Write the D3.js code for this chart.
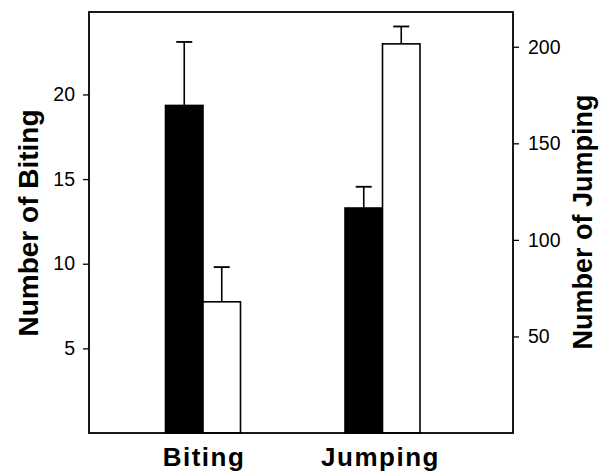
<!DOCTYPE html>
<html>
<head>
<meta charset="utf-8">
<script src="https://cdn.jsdelivr.net/npm/d3@7"></script>
<style>
  body { margin: 0; background: #fff; }
  svg { display: block; font-family: "Liberation Sans", Arial, sans-serif; }
</style>
</head>
<body>
<script>
// data
var categories = ["Biting", "Jumping"]
var series = ["black", "white"]
var bitingMeans = [19.35, 7.75]   // left axis
var bitingErrs = [3.75, 2.05]
var jumpingMeans = [116.5, 201.5] // right axis
var jumpingErrs = [11, 9]
var leftTicks = [5, 10, 15, 20]
var rightTicks = [50, 100, 150, 200]

var width = 603, height = 475
var plot = {left: 89, right: 513, top: 12, bottom: 433}

var svg = d3.select("body").append("svg")
  .attr("width", width)
  .attr("height", height)

var yLeft = d3.scaleLinear().domain([0, 24.87]).range([plot.bottom, plot.top])
var yRight = d3.scaleLinear().domain([0, 218]).range([plot.bottom, plot.top])

var x = d3.scalePoint().domain(categories).range([203, 382.5])
var xSub = d3.scaleBand().domain(series).range([-37.5, 37.5])

var rows = [
  {cat: "Biting", means: bitingMeans, errs: bitingErrs, y: yLeft},
  {cat: "Jumping", means: jumpingMeans, errs: jumpingErrs, y: yRight}
]

// bars
rows.forEach(function(r) {
  series.forEach(function(s, i) {
    var x0 = x(r.cat) + xSub(s)
    var xc = x0 + xSub.bandwidth() / 2
    var top = r.y(r.means[i])
    var etop = r.y(r.means[i] + r.errs[i])
    // error bar first, bar on top of its base
    svg.append("line")
      .attr("x1", xc).attr("x2", xc)
      .attr("y1", top).attr("y2", etop)
      .attr("stroke", "#000").attr("stroke-width", 1.6)
    svg.append("line")
      .attr("x1", xc - 8).attr("x2", xc + 8)
      .attr("y1", etop).attr("y2", etop)
      .attr("stroke", "#000").attr("stroke-width", 1.8)
    svg.append("rect")
      .attr("x", x0)
      .attr("y", top)
      .attr("width", xSub.bandwidth())
      .attr("height", plot.bottom - top)
      .attr("fill", s == "black" ? "#000" : "#fff")
      .attr("stroke", "#000")
      .attr("stroke-width", 1.6)
  })
})

// frame
svg.append("rect")
  .attr("x", plot.left).attr("y", plot.top)
  .attr("width", plot.right - plot.left)
  .attr("height", plot.bottom - plot.top)
  .attr("fill", "none")
  .attr("stroke", "#000")
  .attr("stroke-width", 1.8)

// axes
var gl = svg.append("g")
  .attr("transform", "translate(" + plot.left + ",0)")
  .call(d3.axisLeft(yLeft).tickValues(leftTicks).tickSize(6).tickPadding(8))
var gr = svg.append("g")
  .attr("transform", "translate(" + plot.right + ",0)")
  .call(d3.axisRight(yRight).tickValues(rightTicks).tickSize(6).tickPadding(9))

;[gl, gr].forEach(function(g) {
  g.select(".domain").remove()
  g.selectAll(".tick line").attr("stroke", "#000").attr("stroke-width", 1.3)
  g.selectAll(".tick text")
    .attr("fill", "#000")
    .style("font-size", "19.5px")
    .style("font-family", "'Liberation Sans', Arial, sans-serif")
})

// category labels
svg.selectAll(".cat")
  .data(categories)
  .enter().append("text")
  .attr("class", "cat")
  .attr("x", function(d) { return x(d) + (d == "Jumping" ? -2 : 1) })
  .attr("y", 466)
  .attr("text-anchor", "middle")
  .style("font-size", "26px")
  .style("font-weight", "bold")
  .style("letter-spacing", "1.5px")
  .text(function(d) { return d })

// axis titles
svg.append("text")
  .attr("transform", "translate(38,223) rotate(-90)")
  .attr("text-anchor", "middle")
  .style("font-size", "28px")
  .style("font-weight", "bold")
  .text("Number of Biting")

svg.append("text")
  .attr("transform", "translate(592,222) rotate(-90)")
  .attr("text-anchor", "middle")
  .style("font-size", "27px")
  .style("font-weight", "bold")
  .text("Number of Jumping")
</script>
</body>
</html>
